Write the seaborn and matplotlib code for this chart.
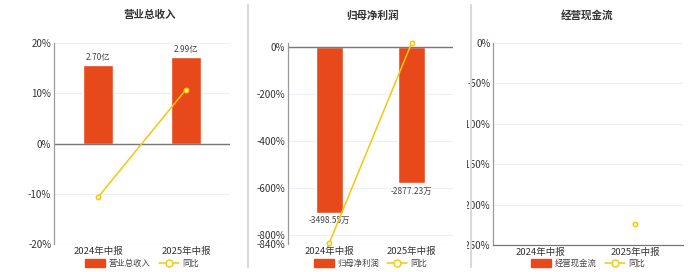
import matplotlib
matplotlib.use("Agg")
import matplotlib.pyplot as plt
import seaborn as sns
import pandas as pd
import numpy as np
from matplotlib.lines import Line2D
from matplotlib.patches import Patch
from matplotlib.transforms import Bbox, TransformedBbox

sns.set_theme(style="white")
plt.rcParams['font.family'] = ['Noto Sans CJK SC', 'DejaVu Sans']
plt.rcParams['axes.unicode_minus'] = False

# ---------------- data ----------------
periods = ["2024年中报", "2025年中报"]
titles = ["营业总收入", "归母净利润", "经营现金流"]

revenue = [2.70, 2.99]              # 亿
revenue_labels = ["2.70亿", "2.99亿"]
revenue_yoy = [-10.7, 10.74]        # %

profit = [-3498.55, -2877.23]       # 万
profit_labels = ["-3498.55万", "-2877.23万"]
profit_yoy = [-836.0, 17.8]         # %

cash = [np.nan, np.nan]
cash_yoy = [np.nan, -223.7]         # %

BAR = "#E8491B"
LINE = "#F5C60F"
TXT = "#333333"
GRID = "#EEF0F6"
AXC = "#9A9A9A"

W, H = 700, 272
fig = plt.figure(figsize=(W / 100, H / 100), dpi=100)
fig.patch.set_facecolor("white")

def rect(l, t, r, b):
    return [l / W, 1 - b / H, (r - l) / W, (b - t) / H]

panels = [
    dict(pos=rect(54, 43, 230, 244), bars=revenue, blabels=revenue_labels, lfs=6.0, yoy=revenue_yoy,
         ylim=(-20, 20), ticks=[-20, -10, 0, 10, 20], barlim=(-3.477, 3.477), above=True,
         zero_line=True, bottom_spine=False, title=titles[0], cx=150, clipx=0),
    dict(pos=rect(288, 42.7, 453, 244), bars=profit, blabels=profit_labels, lfs=6.0, yoy=profit_yoy,
         ylim=(-840, 17.8), ticks=[-840, -800, -600, -400, -200, 0], barlim=(-4154, 4154 * 17.8 / 840),
         above=False, zero_line=True, bottom_spine=False, title=titles[1], cx=372, clipx=250),
    dict(pos=rect(493.3, 42.7, 682.7, 245), bars=cash, blabels=None, lfs=6.0, yoy=cash_yoy,
         ylim=(-250, 0), ticks=[-250, -200, -150, -100, -50, 0], barlim=(-1, 1), above=True,
         zero_line=False, bottom_spine=True, title=titles[2], cx=587, clipx=466.5),
]

for p in panels:
    ax = fig.add_axes(p["pos"])
    axb = ax.twinx()
    ax.set_zorder(axb.get_zorder() + 1)
    ax.patch.set_visible(False)
    axb.patch.set_facecolor("white")

    lo, hi = p["ylim"]
    # grid lines on bar axes (beneath bars)
    for t in p["ticks"]:
        f = (t - lo) / (hi - lo)
        axb.add_line(Line2D([0, 1], [f, f], transform=axb.transAxes, color=GRID, lw=0.9, zorder=0))

    df = pd.DataFrame({"period": periods, "value": p["bars"], "yoy": p["yoy"]})
    if not np.all(np.isnan(p["bars"])):
        sns.barplot(data=df, x="period", y="value", order=periods, ax=axb, color=BAR,
                    width=0.33, saturation=1, zorder=2)
    axb.set_ylim(*p["barlim"])
    axb.set_yticks([])
    axb.set_ylabel("")
    axb.set_xlabel("")
    for s in axb.spines.values():
        s.set_visible(False)

    if p["blabels"] is not None:
        for i, (v, lab) in enumerate(zip(p["bars"], p["blabels"])):
            axb.annotate(lab, (i, v), xytext=(0, 2.5 if p["above"] else -2.5), textcoords="offset points",
                         ha="center", va="bottom" if p["above"] else "top", fontsize=p["lfs"],
                         color="#444444")

    sns.pointplot(data=df, x="period", y="yoy", order=periods, ax=ax, color=LINE,
                  errorbar=None, markers="o", markersize=3.2, linewidth=1.1,
                  markerfacecolor="#FFF3B0", markeredgecolor=LINE, markeredgewidth=1.0)
    for ln in ax.lines:
        ln.set_clip_on(False)
    ax.set_xlim(-0.5, 1.5)
    axb.set_xlim(-0.5, 1.5)
    ax.set_ylim(lo, hi)
    ax.set_yticks(p["ticks"])
    ax.set_yticklabels([f"{t}%" for t in p["ticks"]])
    ax.set_xticks([0, 1])
    ax.set_xticklabels(periods)
    ax.set_xlabel("")
    ax.set_ylabel("")
    ax.tick_params(axis="y", labelsize=7, colors=TXT, length=0, pad=2)
    ax.tick_params(axis="x", labelsize=6.8, colors=TXT, length=0, pad=2)

    clipbox = TransformedBbox(Bbox([[p["clipx"] / W, 0], [1, 1]]), fig.transFigure)
    for lab in ax.get_yticklabels():
        lab.set_clip_box(clipbox)
        lab.set_clip_on(True)

    for k in ["top", "right"]:
        ax.spines[k].set_visible(False)
    ax.spines["left"].set_color(AXC)
    ax.spines["left"].set_linewidth(0.9)
    if p["bottom_spine"]:
        ax.spines["bottom"].set_color("#777777")
        ax.spines["bottom"].set_linewidth(0.9)
        ax.set_xticks([-0.5, 0.5, 1.5], minor=True)
        ax.tick_params(axis="x", which="minor", length=3, color="#777777", width=0.8)
    else:
        ax.spines["bottom"].set_visible(False)
    if p["zero_line"]:
        ax.axhline(0, color="#777777", lw=1.0, zorder=1)

    fig.text(p["cx"] / W, 1 - 15 / H, p["title"], ha="center", va="center",
             fontsize=7.6, fontweight="bold", color=TXT)

    handles = [Patch(facecolor=BAR, edgecolor=BAR),
               Line2D([], [], color=LINE, lw=1.1, marker="o", markersize=5,
                      markerfacecolor="white", markeredgecolor=LINE)]
    l, b, w, h = p["pos"]
    fig.legend(handles, [p["title"], "同比"], loc="center", bbox_to_anchor=(l + w / 2, 1 - 263.5 / H),
               ncol=2, frameon=False, fontsize=6.0, handlelength=2.4, handleheight=1.0,
               handletextpad=0.4, columnspacing=1.0, labelcolor="#444444", borderaxespad=0)

for x in [248, 471]:
    fig.add_artist(Line2D([x / W, x / W], [1 - 5 / H, 1 - 267 / H], transform=fig.transFigure,
                          color="#D9D9D9", lw=1.5))

fig.savefig("out.png", dpi=100, facecolor="white")
